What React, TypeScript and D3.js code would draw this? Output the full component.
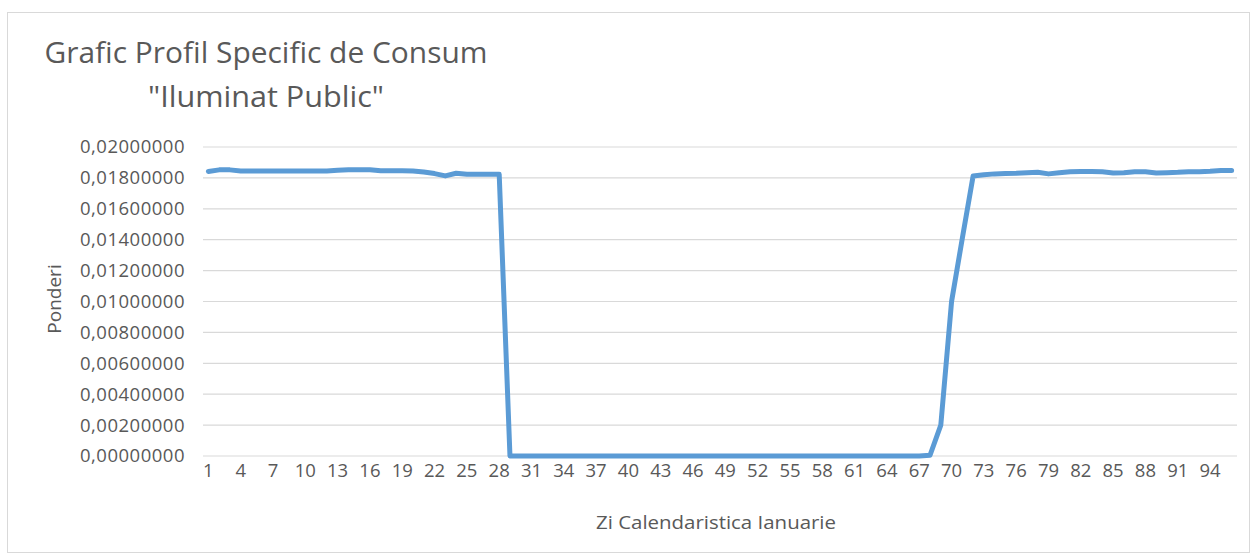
import React from 'react'
import * as d3 from 'd3'

// quarter-hour index (1..96) and weight
const categories: number[] = d3.range(1, 97)
const ponderi: number[] = [
  0.01842, 0.01852, 0.01852, 0.01845, 0.01845, 0.01845, 0.01845, 0.01845, 0.01845, 0.01845,
  0.01845, 0.01845, 0.01850, 0.01852, 0.01852, 0.01852, 0.01847, 0.01846, 0.01846, 0.01845,
  0.01838, 0.01828, 0.01813, 0.01830, 0.01824, 0.01823, 0.01824, 0.01823, 0, 0,
  0, 0, 0, 0, 0, 0, 0, 0, 0, 0,
  0, 0, 0, 0, 0, 0, 0, 0, 0, 0,
  0, 0, 0, 0, 0, 0, 0, 0, 0, 0,
  0, 0, 0, 0, 0, 0, 0, 0.00005, 0.0020, 0.0100,
  0.0141, 0.01812, 0.01820, 0.01826, 0.01828, 0.01830, 0.01834, 0.01836, 0.01826, 0.01834,
  0.01840, 0.01842, 0.01842, 0.01840, 0.01832, 0.01833, 0.01840, 0.01840, 0.01832, 0.01834,
  0.01836, 0.01840, 0.01840, 0.01843, 0.01848, 0.01848,
]
const yTicks: number[] = [0, 0.002, 0.004, 0.006, 0.008, 0.01, 0.012, 0.014, 0.016, 0.018, 0.02]
const xTickLabels: number[] = categories.filter(d => (d - 1) % 3 === 0)

const titleLines = ['Grafic Profil Specific de Consum', '"Iluminat Public"']
const xTitle = 'Zi Calendaristica Ianuarie'
const yTitle = 'Ponderi'

const W = 1257
const H = 560
const font = "'Open Sans', sans-serif"
const textColor = '#595959'

export default function App() {
  const x = d3.scaleBand<number>().domain(categories).range([203, 1237]).padding(0)
  const y = d3.scaleLinear().domain([0, 0.02]).range([456, 147])
  const cx = (d: number) => (x(d) as number) + x.bandwidth() / 2

  const line = d3.line<number>()
    .x((_, i) => cx(categories[i]))
    .y(d => y(d))

  const fmt = (v: number) => d3.format('.8f')(v).replace('.', ',')

  return (
    <svg width={W} height={H} style={{ position: 'absolute', left: 0, top: 0, background: '#fff' }}
      fontFamily={font}>
      <rect x={7.5} y={12.5} width={1242} height={540} fill="#fff" stroke="#d9d9d9" />

      <text x={266} y={63} textAnchor="middle" fontSize={29} fill={textColor}
        textLength={443} lengthAdjust="spacingAndGlyphs">{titleLines[0]}</text>
      <text x={266} y={107} textAnchor="middle" fontSize={29} fill={textColor}
        textLength={236} lengthAdjust="spacingAndGlyphs">{titleLines[1]}</text>

      {yTicks.map(t => (
        <g key={t}>
          <line x1={203} x2={1237} y1={y(t)} y2={y(t)} stroke="#d9d9d9" strokeWidth={1.2} />
          <text x={185} y={y(t)} dy="0.35em" textAnchor="end" fontSize={18.5} fill={textColor}
            letterSpacing={0.5}>{fmt(t)}</text>
        </g>
      ))}

      {xTickLabels.map(d => (
        <text key={d} x={cx(d)} y={477} textAnchor="middle" fontSize={18.5} fill={textColor}>{d}</text>
      ))}

      <text x={716} y={529} textAnchor="middle" fontSize={19} fill={textColor}
        textLength={240} lengthAdjust="spacingAndGlyphs">{xTitle}</text>
      <text transform="translate(61,299) rotate(-90)" textAnchor="middle" fontSize={19} fill={textColor}>{yTitle}</text>

      <path d={line(ponderi) || ''} fill="none" stroke="#5b9bd5" strokeWidth={5}
        strokeLinejoin="round" strokeLinecap="round" />
    </svg>
  )
}
